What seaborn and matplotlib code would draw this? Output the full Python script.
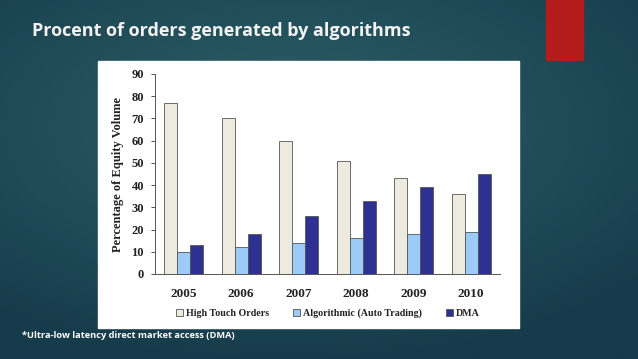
import numpy as np
import pandas as pd
import seaborn as sns
import matplotlib.pyplot as plt
from matplotlib.patches import Rectangle

# Chart values
years = ["2005", "2006", "2007", "2008", "2009", "2010"]
series = ["High Touch Orders", "Algorithmic (Auto Trading)", "DMA"]
high_touch = [77, 70, 60, 51, 43, 36]
algorithmic = [10, 12, 14, 16, 18, 19]
dma = [13, 18, 26, 33, 39, 45]
y_ticks = [0, 10, 20, 30, 40, 50, 60, 70, 80, 90]

colors = ["#edeae0", "#9dcbf7", "#2f3192"]

df = pd.DataFrame({
    "Year": years * 3,
    "Series": [series[0]] * 6 + [series[1]] * 6 + [series[2]] * 6,
    "Value": high_touch + algorithmic + dma,
})

sns.set_style("white")
plt.rcParams["font.family"] = ["Liberation Serif", "DejaVu Serif"]

fig = plt.figure(figsize=(6.38, 3.59), dpi=100)

# Slide background: dark teal radial gradient
bg = fig.add_axes([0, 0, 1, 1], zorder=-10)
yy, xx = np.mgrid[0:1:200j, 0:1:360j]
r = np.sqrt(((xx - 0.45) / 1.0) ** 2 + ((yy - 0.35) / 0.9) ** 2)
r = np.clip(r / 0.75, 0, 1)
c_in = np.array([0x2d, 0x61, 0x68]) / 255
c_out = np.array([0x16, 0x3b, 0x4a]) / 255
img = c_in[None, None, :] * (1 - r[..., None]) + c_out[None, None, :] * r[..., None]
bg.imshow(img, extent=[0, 1, 0, 1], aspect="auto", origin="upper")
bg.set_axis_off()

# red accent block and white chart panel
fig.patches.append(Rectangle((546 / 638, 1 - 60 / 359), 37 / 638, 60 / 359,
                             transform=fig.transFigure, color="#b41b1b", zorder=-5))
fig.patches.append(Rectangle((98 / 638, 1 - 328 / 359), 421 / 638, 267 / 359,
                             transform=fig.transFigure, color="white", zorder=-5))

fig.text(32 / 638, 1 - 36 / 359, "Procent of orders generated by algorithms",
         family="Open Sans", fontweight="bold", fontsize=13, color="#f2f2f2", va="baseline")
fig.text(22 / 638, 1 - 338 / 359, "*Ultra-low latency direct market access (DMA)",
         family="Open Sans", fontweight="bold", fontsize=6.7, color="white", va="baseline")

ax = fig.add_axes([155 / 638, 1 - 274 / 359, 345 / 638, 200 / 359])
ax.patch.set_alpha(0)
sns.barplot(data=df, x="Year", y="Value", hue="Series", order=years, hue_order=series,
            palette=colors, width=0.68, edgecolor="#555555", linewidth=0.6,
            saturation=1, ax=ax, legend=True)

ax.set_ylim(0, 90)
ax.set_xlim(-0.5, 5.5)
ax.set_yticks(y_ticks)
ax.set_xticks(np.arange(-0.5, 6.0, 1.0), minor=True)
ax.tick_params(axis="x", which="major", length=0, pad=10, labelsize=9.5)
ax.tick_params(axis="x", which="minor", length=3, width=0.7, direction="out", color="#555555")
ax.tick_params(axis="y", length=3, width=0.7, direction="out", color="#555555", labelsize=9, pad=5)
ax.tick_params(axis="y", which="major", left=True)
for lbl in ax.get_xticklabels() + ax.get_yticklabels():
    lbl.set_fontweight("bold")
    lbl.set_color("#222222")
ax.set_xlabel("")
ax.set_ylabel("Percentage of Equity Volume", fontsize=9, fontweight="bold", color="#222222", labelpad=5)
sns.despine(ax=ax)
for s in ["left", "bottom"]:
    ax.spines[s].set_color("#555555")
    ax.spines[s].set_linewidth(0.7)

handles, labels = ax.get_legend_handles_labels()
leg = ax.legend(handles, labels, loc="center", bbox_to_anchor=(0.5, -0.195), ncol=3, frameon=False,
                handlelength=0.7, handleheight=0.7, handletextpad=0.3, columnspacing=2.4,
                prop={"weight": "bold", "size": 7.2})
for t in leg.get_texts():
    t.set_fontweight("bold")
    t.set_color("#222222")

fig.savefig("out.png", dpi=100)
